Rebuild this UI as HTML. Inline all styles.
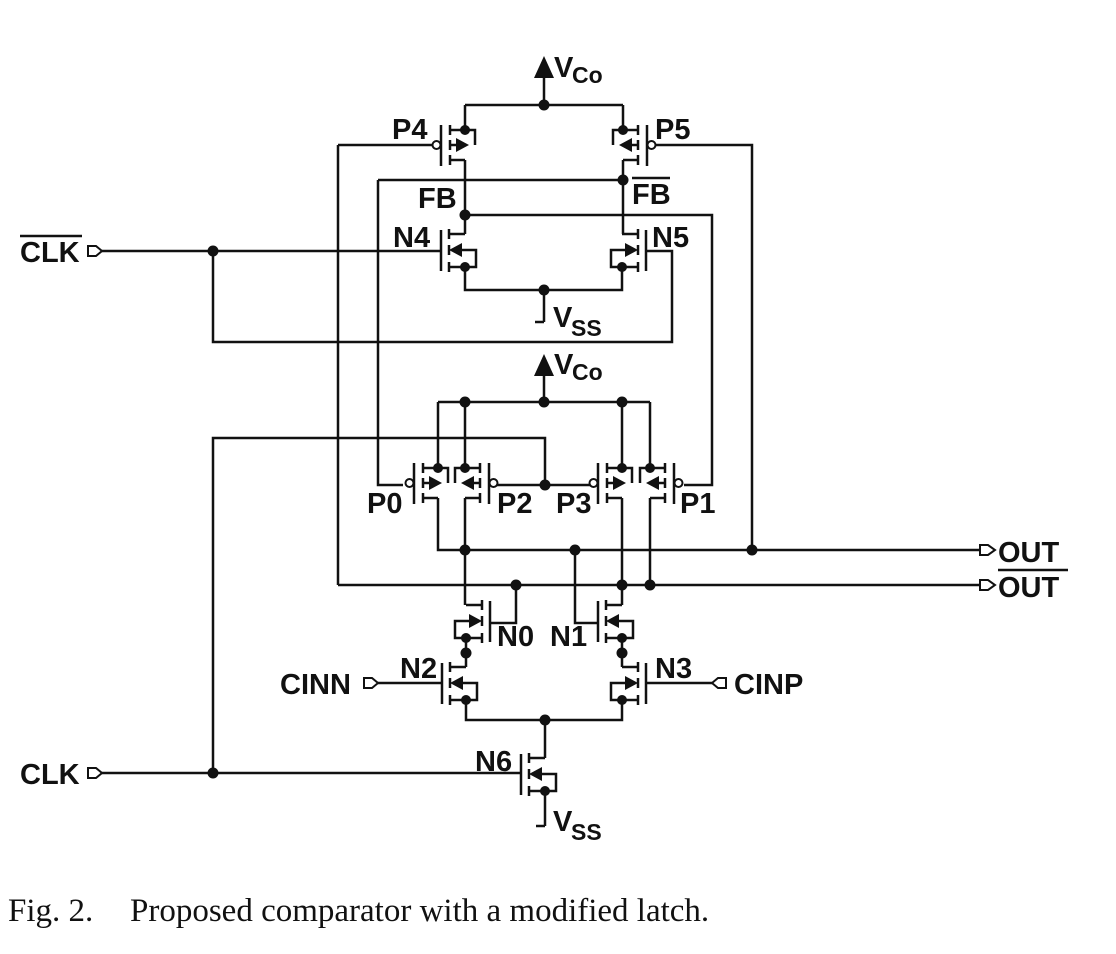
<!DOCTYPE html>
<html><head><meta charset="utf-8"><style>
html,body{margin:0;padding:0;background:#fff;}
svg{display:block;}
.l{font-family:"Liberation Sans",Arial,sans-serif;font-weight:bold;font-size:29px;fill:#111;}
.s{font-family:"Liberation Sans",Arial,sans-serif;font-weight:bold;font-size:23px;fill:#111;}
.c{font-family:"Liberation Serif","Times New Roman",serif;font-size:33px;fill:#111;}
</style></head><body>
<svg width="1116" height="954" viewBox="0 0 1116 954" xmlns="http://www.w3.org/2000/svg">
<defs>
<g id="nm" fill="none" stroke="#111" stroke-width="2.5">
 <path d="M0,0 H-16 M-16,-5 V5 M-16,11 V21 M-16,28 V38 M-24,-4 V37 M-4,16 H11 V33 H0 M-16,33 H0"/>
 <polygon points="-16,16 -3,9 -3,23" fill="#111" stroke="none"/>
 <circle cx="0" cy="33" r="5" fill="#111" stroke="none"/>
</g>
<g id="pm" fill="none" stroke="#111" stroke-width="2.5">
 <path d="M0,0 H-15 M-15,-5 V5 M-15,10 V20 M-15,25 V35 M-24,-5 V36 M-15,15 H-8 M10,15 V0 H0 M-15,30 H0"/>
 <polygon points="4,15 -9,8 -9,22" fill="#111" stroke="none"/>
 <circle cx="0" cy="0" r="5" fill="#111" stroke="none"/>
 <circle cx="-28.5" cy="15" r="4" fill="#fff" stroke-width="2"/>
</g>
</defs>
<g fill="none" stroke="#111" stroke-width="2.5">
<path d="M544,75 V105 M465,105 H623 M465,105 V130 M623,105 V130"/>
<path d="M465,160 V234 M623,160 V234"/>
<path d="M378,180 H623 M378,180 V485 H403"/>
<path d="M465,215 H712 V485 H684"/>
<path d="M338,145 H432 M338,145 V585"/>
<path d="M656,145 H752 V550"/>
<path d="M102,251 H441"/>
<path d="M646,251 H672 V342 H213 V251"/>
<path d="M465,265 V290 H622 V265 M544,290 V322 M535,322 H544"/>
<path d="M544,373 V402 M438,402 H650 M438,402 V468 M465,402 V468 M622,402 V468 M650,402 V468"/>
<path d="M438,498 V550 H980"/>
<path d="M465,498 V605 M622,498 V605 M650,498 V585"/>
<path d="M338,585 H980"/>
<path d="M497,485 H590 M545,485 V438 H213 V773"/>
<path d="M102,773 H521"/>
<path d="M490,623 H516 V585 M598,623 H575 V550"/>
<path d="M466,638 V667 M622,638 V667"/>
<path d="M466,700 V720 H622 V700 M545,720 V758"/>
<path d="M545,791 V826 M536,826 H545"/>
<path d="M378,683 H442 M646,683 H712"/>
</g>
<polygon points="544,56 534,78 554,78" fill="#111"/>
<polygon points="544,354 534,376 554,376" fill="#111"/>
<g fill="#fff" stroke="#111" stroke-width="2">
<polygon points="88,246 96,246 102,251 96,256 88,256"/>
<polygon points="88,768 96,768 102,773 96,778 88,778"/>
<polygon points="364,678 372,678 378,683 372,688 364,688"/>
<polygon points="726,678 718,678 712,683 718,688 726,688"/>
<polygon points="980,545 988,545 995,550 988,555 980,555"/>
<polygon points="980,580 988,580 995,585 988,590 980,590"/>
</g>
<use href="#pm" transform="translate(465,130)"/>
<use href="#pm" transform="translate(623,130) scale(-1,1)"/>
<use href="#nm" transform="translate(465,234)"/>
<use href="#nm" transform="translate(622,234) scale(-1,1)"/>
<use href="#pm" transform="translate(438,468)"/>
<use href="#pm" transform="translate(465,468) scale(-1,1)"/>
<use href="#pm" transform="translate(622,468)"/>
<use href="#pm" transform="translate(650,468) scale(-1,1)"/>
<use href="#nm" transform="translate(466,605) scale(-1,1)"/>
<use href="#nm" transform="translate(622,605)"/>
<use href="#nm" transform="translate(466,667)"/>
<use href="#nm" transform="translate(622,667) scale(-1,1)"/>
<use href="#nm" transform="translate(545,758)"/>
<g fill="#111">
<circle cx="544" cy="105" r="5.5"/><circle cx="623" cy="180" r="5.5"/><circle cx="465" cy="215" r="5.5"/>
<circle cx="213" cy="251" r="5.5"/><circle cx="544" cy="290" r="5.5"/>
<circle cx="544" cy="402" r="5.5"/><circle cx="465" cy="402" r="5.5"/><circle cx="622" cy="402" r="5.5"/>
<circle cx="465" cy="550" r="5.5"/><circle cx="575" cy="550" r="5.5"/><circle cx="752" cy="550" r="5.5"/>
<circle cx="516" cy="585" r="5.5"/><circle cx="622" cy="585" r="5.5"/><circle cx="650" cy="585" r="5.5"/>
<circle cx="545" cy="485" r="5.5"/><circle cx="213" cy="773" r="5.5"/><circle cx="545" cy="720" r="5.5"/>
<circle cx="466" cy="653" r="5.5"/><circle cx="622" cy="653" r="5.5"/>
</g>
<text class="l" x="554" y="77">V</text><text class="s" x="572" y="83">Co</text>
<text class="l" x="554" y="374">V</text><text class="s" x="572" y="380">Co</text>
<text class="l" x="553" y="327">V</text><text class="s" x="571" y="336">SS</text>
<text class="l" x="553" y="831">V</text><text class="s" x="571" y="840">SS</text>
<text class="l" x="392" y="139">P4</text><text class="l" x="655" y="139">P5</text>
<text class="l" x="418" y="208">FB</text><text class="l" x="632" y="204">FB</text>
<path d="M632,178 H670" stroke="#111" stroke-width="2.5"/>
<text class="l" x="393" y="247">N4</text><text class="l" x="652" y="247">N5</text>
<text class="l" x="20" y="262">CLK</text><path d="M20,236 H82" stroke="#111" stroke-width="2.5"/>
<text class="l" x="20" y="784">CLK</text>
<text class="l" x="367" y="513">P0</text><text class="l" x="497" y="513">P2</text>
<text class="l" x="556" y="513">P3</text><text class="l" x="680" y="513">P1</text>
<text class="l" x="497" y="646">N0</text><text class="l" x="550" y="646">N1</text>
<text class="l" x="400" y="678">N2</text><text class="l" x="655" y="678">N3</text>
<text class="l" x="475" y="771">N6</text>
<text class="l" x="280" y="694">CINN</text><text class="l" x="734" y="694">CINP</text>
<text class="l" x="998" y="562">OUT</text><text class="l" x="998" y="597">OUT</text>
<path d="M998,570 H1068" stroke="#111" stroke-width="2.5"/>
<text class="c" x="8" y="921">Fig. 2.</text>
<text class="c" x="130" y="921">Proposed comparator with a modified latch.</text>
</svg>
</body></html>
